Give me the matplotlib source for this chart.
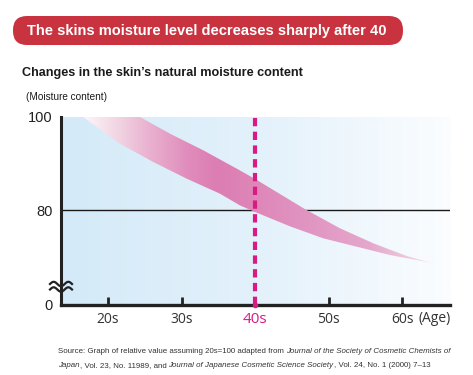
import numpy as np
import matplotlib
matplotlib.use("Agg")
import matplotlib.pyplot as plt
from matplotlib import font_manager
from matplotlib.colors import LinearSegmentedColormap
from matplotlib.patches import FancyBboxPatch, Polygon

# 데이터
decade_ages = [20, 30, 40, 50, 60]
decade_labels = ["20s", "30s", "40s", "50s", "60s"]
highlight_age = 40

# 수분량 밴드 (상단/하단 경계)
upper_age = [24.34, 28.42, 32.95, 37.50, 39.98, 46.78, 51.54, 56.07, 60.61, 64.23]
upper_val = [100.0, 96.41, 92.84, 88.90, 86.70, 80.20, 76.08, 72.86, 70.13, 68.56]
lower_age = [16.63, 18.46, 21.62, 26.15, 30.70, 35.22, 37.94, 39.98, 44.74, 49.27,
             53.81, 58.34, 64.23]
lower_val = [100.0, 97.85, 94.26, 90.33, 86.74, 83.52, 81.00, 79.60, 76.50, 73.93,
             72.13, 70.34, 68.56]

ref_value = 80
y_top = 100
y_bottom = 59.6  # 축 생략 구간 아래 (0으로 표기)

names = {f.name for f in font_manager.fontManager.ttflist}
narrow = "Liberation Sans Narrow" if "Liberation Sans Narrow" in names else "Liberation Sans"
condensed = narrow != "Liberation Sans"

RED = "#c8333f"
MAGENTA = "#d81b84"

fig = plt.figure(figsize=(4.73, 3.75), dpi=100)
ax = fig.add_axes([61 / 473, 1 - 305 / 375, (450 - 61) / 473, (305 - 117) / 375])

x_lo, x_hi = 13.6, 66.5
ax.set_xlim(x_lo, x_hi)
ax.set_ylim(y_bottom, y_top)

# 배경 그라데이션 (하늘색 -> 흰색)
bg_cmap = LinearSegmentedColormap.from_list("bg", ["#d4eaf8", "#e3f1fb", "#fbfdff"])
ax.imshow(np.linspace(0, 1, 256)[None, :], cmap=bg_cmap, aspect="auto",
          extent=[x_lo, x_hi, y_bottom, y_top], zorder=0)

# 기준선 80
ax.axhline(ref_value, color="#1a1a1a", lw=1.0, zorder=2)

# 밴드
poly_xy = list(zip(upper_age, upper_val)) + list(zip(lower_age, lower_val))[::-1]
band = Polygon(poly_xy, closed=True, facecolor="none", edgecolor="none")
ax.add_patch(band)
band_cmap = LinearSegmentedColormap.from_list(
    "band",
    [(0.0, "#fdf6f9"), (0.11, "#f0d0e0"), (0.19, "#e9b0cf"), (0.30, "#e08cbc"),
     (0.38, "#dc7db3"), (0.48, "#de86b8"), (0.62, "#e093c0"), (0.82, "#e5a8cc"),
     (0.93, "#eccbdf"), (1.0, "#f8ecf2")])
img = ax.imshow(np.linspace(0, 1, 256)[None, :], cmap=band_cmap, aspect="auto",
                extent=[lower_age[0], upper_age[-1], y_bottom, y_top], zorder=3)
img.set_clip_path(band)

# 40대 점선
ax.axvline(highlight_age, color=MAGENTA, lw=3, ls=(0, (2.0, 1.3)), zorder=4)
ax.plot([highlight_age], [y_bottom], "o", color=MAGENTA, ms=3, clip_on=False, zorder=6)

# 축
for s in ["top", "right"]:
    ax.spines[s].set_visible(False)
ax.spines["left"].set_linewidth(2.2)
ax.spines["bottom"].set_linewidth(2.4)
ax.spines["left"].set_color("#222222")
ax.spines["bottom"].set_color("#222222")
ax.spines["left"].set_zorder(5)
ax.spines["bottom"].set_zorder(5)

ax.set_xticks(decade_ages)
ax.set_xticklabels(decade_labels, fontfamily="Open Sans", fontsize=10, color="#333333")
ax.tick_params(axis="x", direction="in", length=6, width=2, color="#222222", pad=5)
for lab in ax.get_xticklabels():
    if lab.get_text() == "40s":
        lab.set_color(MAGENTA)
        lab.set_fontsize(11)

ax.set_yticks([y_bottom, ref_value, y_top])
ax.set_yticklabels(["0", "80", "100"], fontfamily="Liberation Sans", fontsize=10.5, color="#222222")
ax.tick_params(axis="y", length=0, pad=6)

fig.text(418 / 473, 1 - 318 / 375, "(Age)", fontfamily="Open Sans", fontsize=10,
         color="#333333", va="center", ha="left")

# 축 생략 표시
t = np.linspace(0, 1, 40)
for dy in (0, 5.5):
    xs = 50 + 22 * t
    ys = 284 + dy + 2.2 * np.sin(2 * np.pi * 1.5 * t + np.pi)
    fig.lines.append(plt.Line2D(xs / 473, 1 - ys / 375, color="#222222", lw=1.6,
                                transform=fig.transFigure))

# 제목 배너
banner = FancyBboxPatch((0.13, 3.30), 3.90, 0.29, boxstyle="round,pad=0,rounding_size=0.14",
                        transform=fig.dpi_scale_trans, facecolor=RED, edgecolor="none")
fig.patches.append(banner)
fig.text(207 / 473, 1 - 31 / 375, "The skins moisture level decreases sharply after 40",
         fontfamily=narrow, fontweight="bold", fontsize=12.5 if condensed else 10.5,
         color="white", ha="center", va="center")

fig.text(22 / 473, 1 - 73 / 375, "Changes in the skin\u2019s natural moisture content",
         fontfamily=narrow, fontweight="bold", fontsize=10.8 if condensed else 9.1,
         color="#1a1a1a", ha="left", va="center")
fig.text(26 / 473, 1 - 97 / 375, "(Moisture content)",
         fontfamily=narrow, fontsize=8.5 if condensed else 7.2,
         color="#1a1a1a", ha="left", va="center")

# 출처 (일반체/이탤릭 섞어서 이어 붙이기, 기준선 맞춤)
src_size = 6.5 if condensed else 5.7
lines = [
    [("Source: Graph of relative value assuming 20s=100 adapted from ", "normal"),
     ("Journal of the Society of Cosmetic Chemists of", "italic")],
    [("Japan", "italic"), (", Vol. 23, No. 11989, and ", "normal"),
     ("Journal of Japanese Cosmetic Science Society", "italic"),
     (", Vol. 24, No. 1 (2000) 7\u201313", "normal")],
]
renderer = fig.canvas.get_renderer()
for i, parts in enumerate(lines):
    x_px = 58
    y_fig = 1 - (353 + 14 * i) / 375
    for txt, style in parts:
        t_obj = fig.text(x_px / 473, y_fig, txt, fontfamily=narrow, fontstyle=style,
                         fontsize=src_size, color="#333333", ha="left", va="baseline")
        x_px += t_obj.get_window_extent(renderer).width

fig.savefig("out.png", dpi=100)
